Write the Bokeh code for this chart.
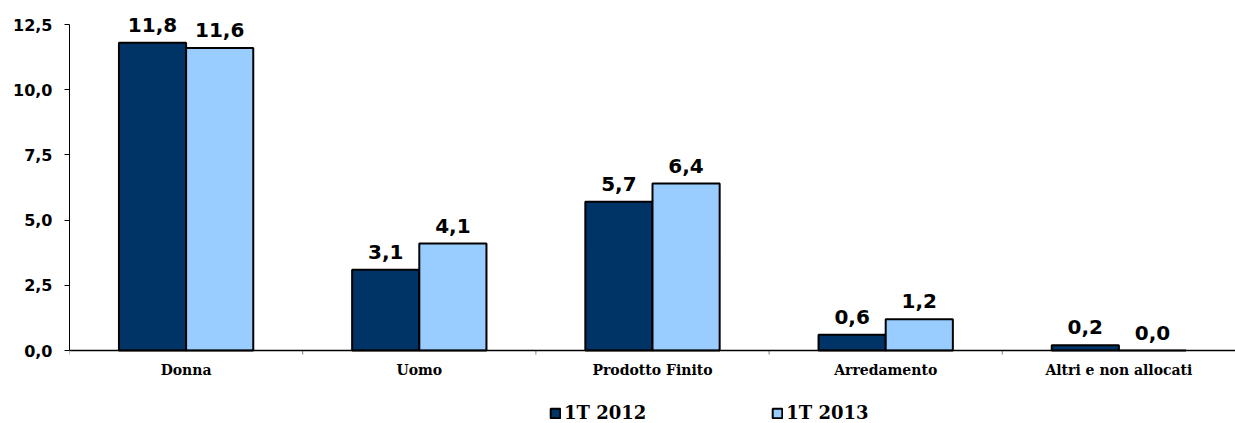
from bokeh.plotting import figure
from bokeh.models import (Range1d, LinearAxis, FixedTicker, ColumnDataSource,
                          LabelSet, Legend, LegendItem, Span)
from bokeh.core.properties import value
from bokeh.embed import file_html
from bokeh.resources import INLINE

categories = ["Donna", "Uomo", "Prodotto Finito", "Arredamento", "Altri e non allocati"]
series_names = ["1T 2012", "1T 2013"]
values_2012 = [11.8, 3.1, 5.7, 0.6, 0.2]
values_2013 = [11.6, 4.1, 6.4, 1.2, 0.0]
y_ticks = [0.0, 2.5, 5.0, 7.5, 10.0, 12.5]

colors = ["#003366", "#99CCFF"]
bar_w = 0.288

def fmt(v):
    return f"{v:.1f}".replace(".", ",")

centers = [i + 0.5 for i in range(len(categories))]
bounds = list(range(len(categories) + 1))

W, H = 1235, 423
TOP, ZERO = 24, 350
px_per_unit = (ZERO - TOP) / 12.5
y_min = -(H - ZERO) / px_per_unit
y_max = 12.5 + TOP / px_per_unit

p = figure(width=W, height=H, output_backend="svg", toolbar_location=None,
           x_range=Range1d(0, len(categories)), y_range=Range1d(y_min, y_max),
           x_axis_type=None, y_axis_type=None,
           min_border_left=69, min_border_top=0, min_border_right=0,
           min_border_bottom=0)
p.outline_line_color = None
p.xgrid.visible = False
p.ygrid.visible = False

src1 = ColumnDataSource(dict(x=[c - bar_w / 2 for c in centers], top=values_2012,
                             lab=[fmt(v) for v in values_2012]))
src2 = ColumnDataSource(dict(x=[c + bar_w / 2 for c in centers], top=values_2013,
                             lab=[fmt(v) for v in values_2013]))

r1 = p.vbar(x="x", top="top", width=bar_w, source=src1, fill_color=colors[0],
            line_color="black", line_width=2)
r2 = p.vbar(x="x", top="top", width=bar_w, source=src2, fill_color=colors[1],
            line_color="black", line_width=2)

for s in (src1, src2):
    lbl = LabelSet(x="x", y="top", text="lab", source=s, text_align="center",
                   text_baseline="bottom", y_offset=11, text_font=value("DejaVu Sans"),
                   text_font_style="bold", text_font_size="20px", text_color="black")
    p.add_layout(lbl)

# x axis line at 0 and small ticks at category boundaries
p.add_layout(Span(location=0, dimension="width", line_color="black", line_width=1.5))
tick_len = 4 / px_per_unit
p.segment(x0=bounds, y0=[0] * len(bounds), x1=bounds, y1=[-tick_len] * len(bounds),
          line_color="#808080", line_width=1)

cat_src = ColumnDataSource(dict(x=centers, y=[0] * len(centers), lab=categories))
p.add_layout(LabelSet(x="x", y="y", text="lab", source=cat_src, text_align="center",
                      text_baseline="top", y_offset=-11, text_font=value("DejaVu Serif"),
                      text_font_style="bold", text_font_size="14px", text_color="black"))

yaxis = LinearAxis(ticker=FixedTicker(ticks=y_ticks, minor_ticks=[]),
                   major_label_overrides={t: fmt(t) for t in y_ticks},
                   bounds=(0, 12.5))
yaxis.major_tick_out = 5
yaxis.major_tick_in = 0
yaxis.major_tick_line_color = "black"
yaxis.minor_tick_line_color = None
yaxis.axis_line_color = "black"
yaxis.major_label_standoff = 12
yaxis.major_label_text_font = "DejaVu Sans"
yaxis.major_label_text_font_style = "bold"
yaxis.major_label_text_font_size = "16px"
yaxis.major_label_text_color = "black"
p.add_layout(yaxis, "left")

legend = Legend(items=[LegendItem(label=series_names[0], renderers=[r1]),
                       LegendItem(label=series_names[1], renderers=[r2])],
                orientation="horizontal", location=(480, 0), spacing=125,
                glyph_width=12, glyph_height=12, label_standoff=3,
                label_text_font="DejaVu Serif", label_text_font_style="bold",
                label_text_font_size="18px", label_text_color="black",
                border_line_color=None, background_fill_alpha=0,
                padding=2, margin=0)
p.add_layout(legend, "center")

open("out.html", "w").write(file_html(p, INLINE))
